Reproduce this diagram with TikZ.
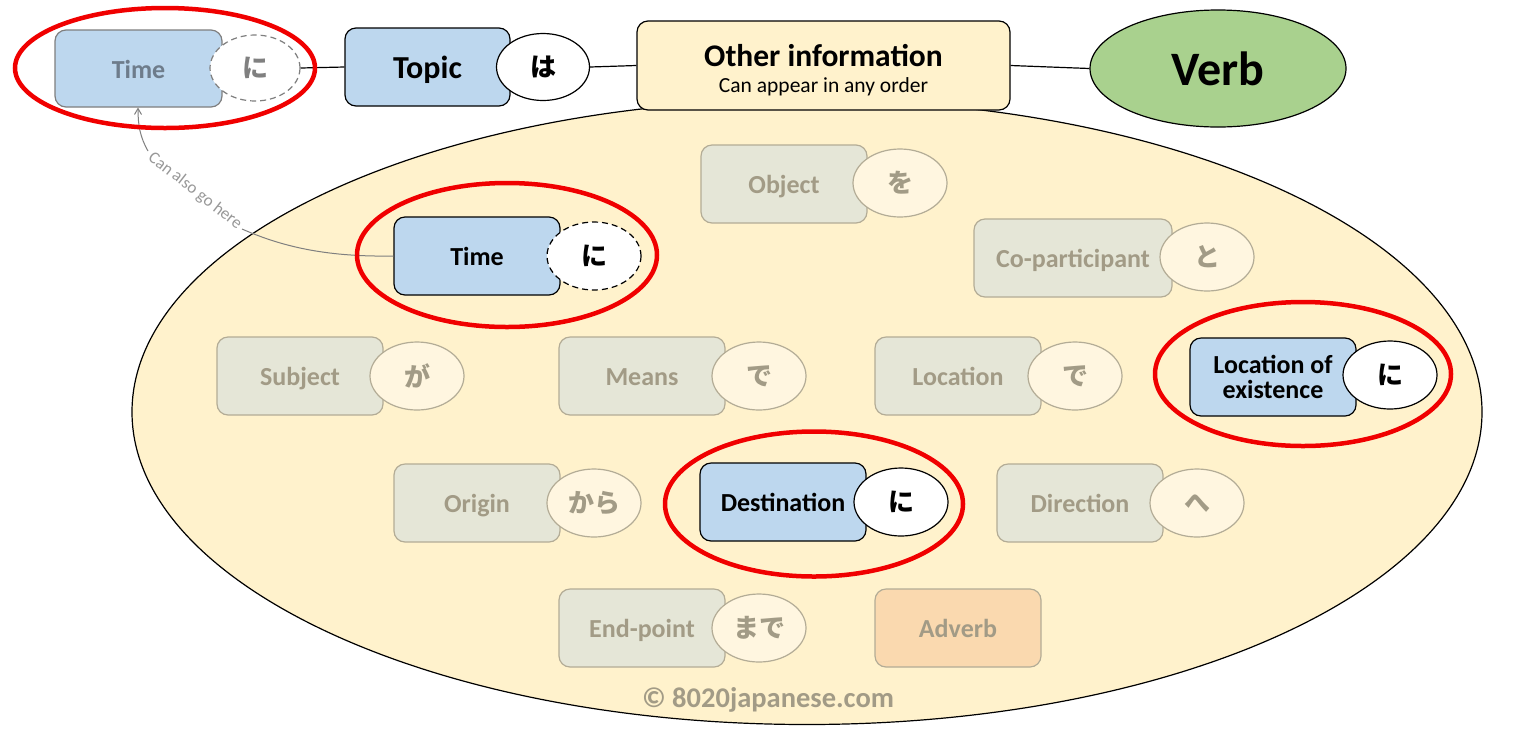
\documentclass[tikz,border=0pt]{standalone}
\usepackage{fontspec}
\setmainfont{Carlito}
\newfontfamily\jp{Noto Sans CJK JP}
\usetikzlibrary{shapes.geometric,arrows.meta}
\definecolor{blueF}{HTML}{BDD7EE}
\definecolor{grayF}{HTML}{E5E6D7}
\definecolor{grayB}{HTML}{B3AC96}
\definecolor{grayT}{HTML}{A29B86}
\definecolor{creamF}{HTML}{FFF6E0}
\definecolor{bigF}{HTML}{FFF2CC}
\definecolor{peachF}{HTML}{FAD9AF}
\definecolor{verbF}{HTML}{A9D18E}
\definecolor{redL}{HTML}{F00000}
\definecolor{arrowC}{HTML}{7F7F7F}
\definecolor{fadeT}{HTML}{6E7C8B}
\tikzset{
  x=1pt, y=-1pt,
  basebox/.style={rectangle, rounded corners=11pt, minimum width=166pt, minimum height=78pt, inner sep=0pt,
    font=\bfseries\fontsize{26}{25}\selectfont, line width=1.2pt, align=center},
  box/.style={basebox, text height=19pt, text depth=0pt},
  activebox/.style={box, fill=blueF, draw=black, text=black},
  fadedbox/.style={box, fill=grayF, draw=grayB, text=grayT},
  part/.style={ellipse, minimum width=94pt, minimum height=68pt, inner sep=0pt, line width=1.2pt,
    font=\jp\bfseries\fontsize{26}{26}\selectfont},
  activepart/.style={part, fill=white, draw=black, text=black},
  fadedpart/.style={part, fill=creamF, draw=grayB, text=grayT},
  dashring/.style={dash pattern=on 6pt off 4pt},
  redring/.style={ellipse, draw=redL, line width=4.5pt, inner sep=0pt},
  conn/.style={line width=1.2pt, draw=black}
}
\begin{document}
\begin{tikzpicture}
\path[fill=white] (0,0) rectangle (1536,740);
\useasboundingbox (0,0) rectangle (1536,740);

% big ellipse
\node[ellipse, fill=bigF, draw=black, line width=1.2pt, minimum width=1350pt, minimum height=625pt, inner sep=0pt] (big) at (807,412) {};

% top row
\node[box, fill=blueF, draw=arrowC, text=fadeT, minimum width=167pt, minimum height=77pt] (ttime) at (138.5,68.5) {Time};
\node[part, fill=white, draw=arrowC, dashring, text=gray, minimum width=90pt, minimum height=66pt] (tni) at (255,68) {に};
\node[activebox, minimum width=165pt, font=\bfseries\fontsize{32}{32}\selectfont, text height=22pt] (topic) at (427.5,67) {Topic};
\node[activepart, minimum width=93pt, minimum height=67pt] (wa) at (543,67) {は};
\node[basebox, fill=bigF, draw=black, minimum width=373pt, minimum height=89pt] (other) at (823.5,65.5) {};
\node[font=\bfseries\fontsize{31.5}{31.5}\selectfont, inner sep=0pt] (otherA) at (823.5,56) {Other information};
\node[font=\fontsize{21.5}{21.5}\selectfont, inner sep=0pt] (otherB) at (823.5,87) {Can appear in any order};
\node[ellipse, fill=verbF, draw=black, line width=1.2pt, minimum width=256pt, minimum height=117pt, inner sep=0pt, font=\bfseries\fontsize{48}{48}\selectfont] (verb) at (1218,68.5) {Verb};

\draw[conn] (tni.east) -- (topic.west);
\draw[conn] (wa.east) -- (other.west);
\draw[conn] (other.east) -- (verb.west);

% inner items
\node[fadedbox] (obj) at (784,184) {Object};
\node[fadedpart] (wo) at (900,183) {を};
\node[activebox] (itime) at (477,256) {Time};
\node[part, fill=white, draw=black, dashring, text=black] (ini) at (594,256) {に};
\node[fadedbox, minimum width=198pt] (cop) at (1073,258) {Co-participant};
\node[fadedpart] (to) at (1207,257) {と};
\node[fadedbox] (subj) at (300,376) {Subject};
\node[fadedpart] (ga) at (417,376) {が};
\node[fadedbox] (means) at (642,376) {Means};
\node[fadedpart] (de1) at (759,376) {で};
\node[fadedbox] (loc) at (958,376) {Location};
\node[fadedpart] (de2) at (1075,376) {で};
\node[basebox, fill=blueF, draw=black, text=black] (locex) at (1273,377) {Location of\\existence};
\node[activepart] (ni2) at (1390,375) {に};
\node[fadedbox] (orig) at (477,503) {Origin};
\node[fadedpart] (kara) at (594,503) {から};
\node[activebox] (dest) at (783,502) {Destination};
\node[activepart] (ni3) at (901,502) {に};
\node[fadedbox] (dir) at (1080,503) {Direction};
\node[fadedpart] (he) at (1197,503) {へ};
\node[fadedbox] (endp) at (642,628) {End-point};
\node[fadedpart] (made) at (759,628) {まで};
\node[box, fill=peachF, draw=grayB, text=grayT] (adv) at (958,628) {Adverb};

\node[text=grayT, font=\bfseries\fontsize{28.5}{28.5}\selectfont, inner sep=0pt] (copy) at (768,700) {© 8020japanese.com};

% "can also go here" arrow
\coordinate (c1) at (242,229);
\coordinate (c2) at (148,151);
\draw[arrowC, line width=1pt] (itime.west) .. controls (330,257) and (285,248) .. (c1);
\draw[arrowC, line width=1pt, -{Straight Barb[length=6pt,width=7pt]}] (c2) .. controls (140,137) and (138,125) .. (138,107.5);
\node[text=arrowC!80!white, font=\fontsize{17}{17}\selectfont, rotate=-38, inner sep=0pt] (cang) at (195,191) {Can also go here};

% red rings
\node[redring, minimum width=300pt, minimum height=120pt] (r1) at (165,68) {};
\node[redring, minimum width=300pt, minimum height=144pt] (r2) at (507,255) {};
\node[redring, minimum width=296pt, minimum height=144pt] (r3) at (1303,374) {};
\node[redring, minimum width=298pt, minimum height=145pt] (r4) at (814,504) {};
\end{tikzpicture}
\end{document}
